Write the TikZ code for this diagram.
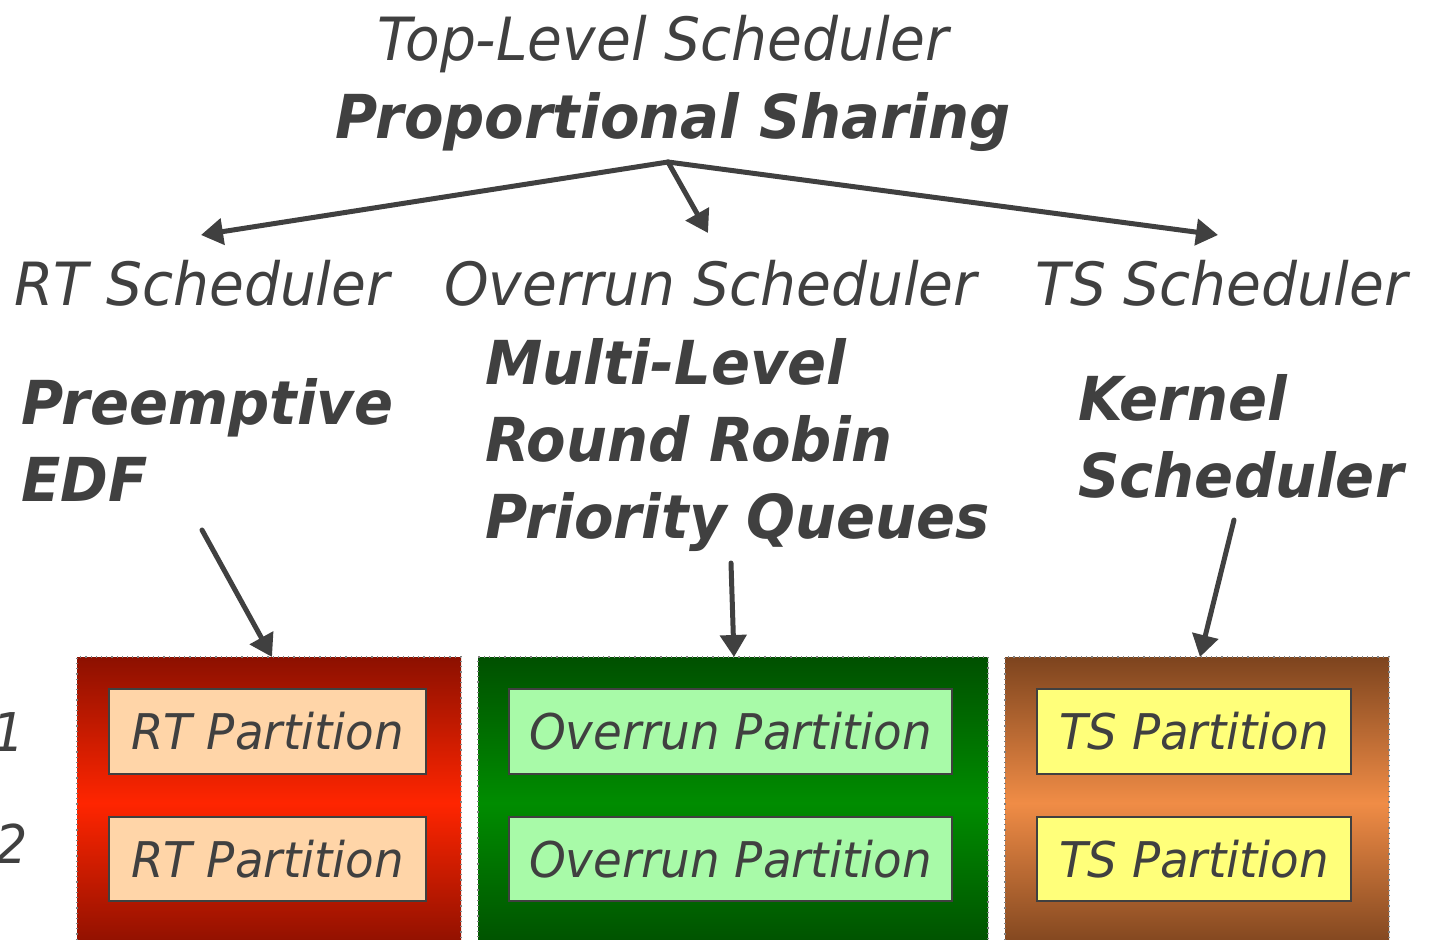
\documentclass[tikz,border=0pt]{standalone}
\usepackage{fontspec}
\setmainfont{DejaVu Sans}[FakeStretch=0.95,
  BoldFont={DejaVu Sans Bold},
  ItalicFont={DejaVu Sans Oblique},
  BoldItalicFont={DejaVu Sans Bold Oblique}]
\usetikzlibrary{arrows.meta}
\definecolor{txt}{RGB}{64,64,64}
\definecolor{rtD}{RGB}{140,16,0}
\definecolor{rtM}{RGB}{255,37,0}
\definecolor{grD}{RGB}{0,80,0}
\definecolor{grM}{RGB}{0,140,0}
\definecolor{brD}{RGB}{125,68,30}
\definecolor{brM}{RGB}{240,140,70}
\definecolor{rtF}{RGB}{255,213,168}
\definecolor{grF}{RGB}{168,250,168}
\definecolor{tsF}{RGB}{255,255,122}
\tikzset{
  big/.style={font=\fontsize{29.8}{38.5}\selectfont\itshape, text=txt, inner sep=0pt, anchor=base west},
  bigb/.style={font=\fontsize{30.3}{38.5}\selectfont\bfseries\itshape, text=txt, inner sep=0pt, anchor=base west, align=left},
  arr/.style={line width=2.5pt, draw=txt, line cap=round, -{Triangle[length=11pt,width=13pt]}},
  outer/.style={shade, draw=gray, dotted, line width=0.6pt, minimum height=146pt, inner sep=0pt},
  part/.style={draw=txt, line width=1pt, minimum height=42.3pt, inner sep=0pt,
    font=\fontsize{24.6}{28}\selectfont\itshape, text=txt},
  num/.style={font=\fontsize{26.7}{30}\selectfont\itshape, text=txt, inner sep=0pt, anchor=base west}
}
\begin{document}
\begin{tikzpicture}[x=0.5pt,y=-0.5pt]
\useasboundingbox (0,0) rectangle (1432,939);
\begin{scope}
\clip (0,0) rectangle (1432,939);
% outer partition groups
\node[outer, top color=rtD, bottom color=rtD, middle color=rtM, minimum width=192pt] (rtbox) at (269,803) {};
\node[outer, top color=grD, bottom color=grD, middle color=grM, minimum width=255pt] (grbox) at (733,803) {};
\node[outer, top color=brD, bottom color=brD, middle color=brM, minimum width=192pt] (tsbox) at (1197,803) {};
\end{scope}
% partitions
\node[part, fill=rtF, minimum width=158.8pt] (rt1) at (267.5,731.3) {RT Partition};
\node[part, fill=rtF, minimum width=158.8pt] (rt2) at (267.5,858.8) {RT Partition};
\node[part, fill=grF, minimum width=221.5pt] (ov1) at (730.5,731.3) {Overrun Partition};
\node[part, fill=grF, minimum width=221.5pt] (ov2) at (730.5,858.8) {Overrun Partition};
\node[part, fill=tsF, minimum width=157.3pt] (ts1) at (1194,731.3) {TS Partition};
\node[part, fill=tsF, minimum width=157.3pt] (ts2) at (1194,858.8) {TS Partition};
% row numbers
\node[num] (n1) at (-8,751) {1};
\node[num] (n2) at (-5,863) {2};
% titles
\node[big, anchor=base] (top) at (663,60) {Top-Level Scheduler};
\node[bigb, anchor=base] (ps) at (673,138) {Proportional Sharing};
\node[big] (rts) at (14,305) {RT Scheduler};
\node[big] (ovs) at (444,305) {Overrun Scheduler};
\node[big] (tss) at (1035,305) {TS Scheduler};
\node[bigb] (edf) at (21,501) {Preemptive\\EDF};
\node[bigb] (mlq) at (485,538) {Multi-Level\\Round Robin\\Priority Queues};
\node[bigb] (ker) at (1078,497) {Kernel\\Scheduler};
% connector points
\coordinate (j) at (668,162);
\coordinate (rtTip) at (201,235);
\coordinate (ovTip) at (708,233);
\coordinate (tsTip) at (1218,235);
\coordinate (edfOut) at (202,530);
\coordinate (mlqOut) at (731,563);
\coordinate (kerOut) at (1234,520);
\coordinate (rtIn) at (272,657);
\coordinate (ovIn) at (734,657);
\coordinate (tsIn) at (1200,657);
\draw[arr] (j) -- (rtTip);
\draw[arr] (j) -- (ovTip);
\draw[arr] (j) -- (tsTip);
\draw[arr] (edfOut) -- (rtIn);
\draw[arr] (mlqOut) -- (ovIn);
\draw[arr] (kerOut) -- (tsIn);
\end{tikzpicture}
\end{document}
